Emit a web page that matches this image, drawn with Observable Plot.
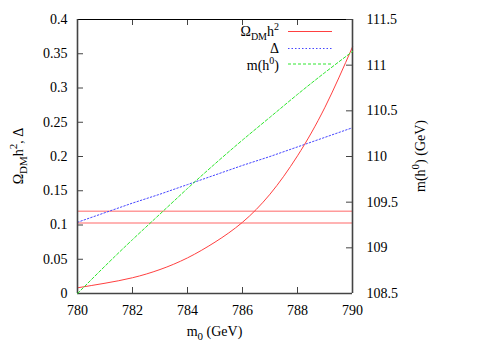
<!DOCTYPE html>
<html><head><meta charset="utf-8">
<script src="https://cdn.jsdelivr.net/npm/d3@7"></script>
<script src="https://cdn.jsdelivr.net/npm/@observablehq/plot@0.6"></script>
<style>
body{margin:0;background:#fff}
#chart{position:relative;width:491px;height:343px}
#chart svg{position:absolute;left:0;top:0}
#chart svg, #chart svg text, #chart svg tspan{font-family:"Liberation Serif","Times New Roman","DejaVu Serif",serif !important}
</style></head><body><div id="chart"></div>
<script>
// data
const m0    = [780, 781, 782, 783, 784, 785, 786, 787, 788, 789, 790];
const omega = [0.0083, 0.015, 0.023, 0.035, 0.052, 0.075, 0.104, 0.145, 0.201, 0.272, 0.360];
const delta = [0.104, 0.118, 0.132, 0.145, 0.159, 0.173, 0.187, 0.200, 0.214, 0.228, 0.242];
const mh    = [108.50, 108.80, 109.09, 109.37, 109.65, 109.92, 110.18, 110.43, 110.68, 110.92, 111.15];
const bounds = [0.103, 0.12];
const xTicks  = [780, 782, 784, 786, 788, 790];
const yTicks  = [0, 0.05, 0.1, 0.15, 0.2, 0.25, 0.3, 0.35, 0.4];
const y2Ticks = [108.5, 109, 109.5, 110, 110.5, 111, 111.5];

const W = 491, H = 343, mL = 77, mR = 139, mT = 19, mB = 50;
const PW = W - mL - mR, PH = H - mT - mB, TK = 6;
const font = '"Liberation Serif", "Times New Roman", "DejaVu Serif", serif';
const RED = "#ff4040", BLUE = "#4646ff", GREEN = "#2ee62e", PINK = "#ff9a9a", AX = "#444";
const fmt = d => `${d}`;

const rowsO = m0.map((x, i) => ({x, y: omega[i]}));
const rowsD = m0.map((x, i) => ({x, y: delta[i]}));
const rowsM = m0.map((x, i) => ({x, y: mh[i]}));

const common = {
  width: W, height: H, marginLeft: mL, marginRight: mR, marginTop: mT, marginBottom: mB,
  style: {fontFamily: font, fontSize: "14px", color: "#000", background: "transparent", overflow: "visible"}
};

const p1 = Plot.plot({
  ...common,
  x: {domain: [780, 790], label: null},
  y: {domain: [0, 0.4], label: null},
  marks: [
    Plot.ruleY(bounds, {stroke: PINK, strokeWidth: 1.6}),
    Plot.line(rowsD, {x: "x", y: "y", stroke: BLUE, strokeWidth: 1, strokeDasharray: "1.5,2"}),
    Plot.line(rowsO, {x: "x", y: "y", stroke: RED, strokeWidth: 1, curve: "natural"}),
    // inward tick marks
    Plot.ruleX(xTicks, {insetTop: PH - TK, stroke: AX}),
    Plot.ruleX(xTicks, {insetBottom: PH - TK, stroke: AX}),
    Plot.ruleY(yTicks, {insetRight: PW - TK, stroke: AX}),
    // border
    Plot.ruleY([0.4], {stroke: "#000", strokeWidth: 1}),
    Plot.ruleY([0], {stroke: AX, strokeWidth: 1.6}),
    Plot.ruleX([780, 790], {stroke: AX, strokeWidth: 1.6}),
    Plot.axisX({ticks: xTicks, anchor: "bottom", tickSize: 0, tickPadding: 12, tickFormat: fmt, label: null}),
    Plot.axisY({ticks: yTicks, anchor: "left", tickSize: 0, tickPadding: 10, tickFormat: fmt, label: null})
  ]
});

const p2 = Plot.plot({
  ...common,
  x: {domain: [780, 790], axis: null},
  y: {domain: [108.5, 111.5], label: null},
  marks: [
    Plot.line(rowsM, {x: "x", y: "y", stroke: GREEN, strokeWidth: 1, strokeDasharray: "3,2", curve: "natural"}),
    Plot.ruleY(y2Ticks, {insetLeft: PW - TK, stroke: AX}),
    Plot.axisY({ticks: y2Ticks, anchor: "right", tickSize: 0, tickPadding: 14, tickFormat: fmt, label: null})
  ]
});

const box = document.getElementById("chart");
box.appendChild(p1);
box.appendChild(p2);

// labels with sub/superscripts
const svg = d3.select(p2);
function rich(g, parts, size = 14, small = 11) {
  const t = g.append("text").attr("font-family", font).attr("font-size", size).attr("fill", "#000");
  let shift = 0;
  for (const [s, kind] of parts) {
    const target = kind === "sub" ? 4 : kind === "sup" ? -6 : 0;
    const ts = t.append("tspan").text(s).attr("dy", target - shift);
    if (kind) ts.attr("font-size", small);
    shift = target;
  }
  return t;
}
rich(svg.append("g").attr("transform", "translate(214.5,336)"),
  [["m"], ["0", "sub"], [" (GeV)"]]).attr("text-anchor", "middle");
rich(svg.append("g").attr("transform", "translate(23,156) rotate(-90)"),
  [["Ω"], ["DM", "sub"], ["h"], ["2", "sup"], [", Δ"]]).attr("text-anchor", "middle");
rich(svg.append("g").attr("transform", "translate(425,156) rotate(-90)"),
  [["m(h"], ["0", "sup"], [") (GeV)"]]).attr("text-anchor", "middle");

// legend
const legend = [
  {parts: [["Ω"], ["DM", "sub"], ["h"], ["2", "sup"]], stroke: RED, dash: null, y: 31.5, base: 36},
  {parts: [["Δ"]], stroke: BLUE, dash: "1.5,2", y: 48.5, base: 53},
  {parts: [["m(h"], ["0", "sup"], [")"]], stroke: GREEN, dash: "3,2", y: 64, base: 70}
];
for (const L of legend) {
  rich(svg.append("g").attr("transform", `translate(279,${L.base})`), L.parts, 14, 10).attr("text-anchor", "end");
  svg.append("line").attr("x1", 288).attr("x2", 332).attr("y1", L.y).attr("y2", L.y)
    .attr("stroke", L.stroke).attr("stroke-width", 1).attr("stroke-dasharray", L.dash);
}
</script></body></html>
